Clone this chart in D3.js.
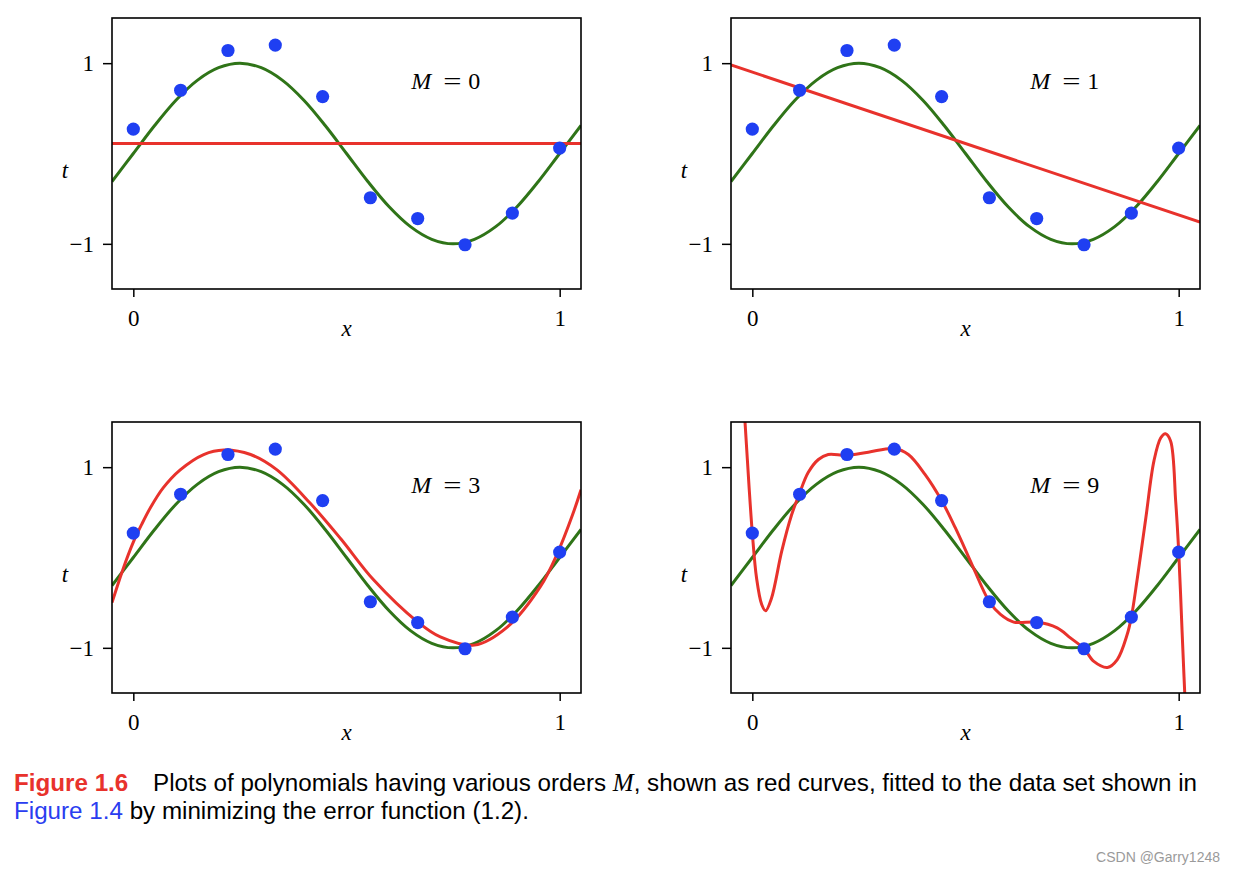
<!DOCTYPE html>
<html>
<head>
<meta charset="utf-8">
<script src="https://cdn.jsdelivr.net/npm/d3@7"></script>
<style>
  html, body { margin: 0; padding: 0; background: #fff; }
  svg { display: block; }
</style>
</head>
<body>
<svg id="chart" width="1234" height="873"></svg>
<script>
// ---------------- data ----------------
const orders = [0, 1, 3, 9];
const pointX = [0, 0.111, 0.222, 0.333, 0.444, 0.556, 0.667, 0.778, 0.889, 1];
const pointT = [0.27, 0.70, 1.14, 1.20, 0.63, -0.49, -0.72, -1.01, -0.66, 0.06];

const sineX = [-0.05, 0, 0.05, 0.1, 0.15, 0.2, 0.25, 0.3, 0.35, 0.4, 0.45, 0.5,
               0.55, 0.6, 0.65, 0.7, 0.75, 0.8, 0.85, 0.9, 0.95, 1.0, 1.05];
const sineY = [-0.31, 0, 0.31, 0.59, 0.81, 0.95, 1.0, 0.95, 0.81, 0.59, 0.31, 0,
               -0.31, -0.59, -0.81, -0.95, -1.0, -0.95, -0.81, -0.59, -0.31, 0, 0.31];

const fitM0X = [-0.05, 1.05];
const fitM0Y = [0.11, 0.11];
const fitM1X = [-0.05, 1.05];
const fitM1Y = [0.98, -0.76];
const fitM3X = [-0.05, -0.025, 0, 0.02, 0.04, 0.07, 0.11, 0.165, 0.212, 0.275, 0.337, 0.415, 0.486,
                0.564, 0.666, 0.72, 0.80, 0.877, 0.955, 0.995, 1.03, 1.05];
const fitM3Y = [-0.50, -0.14, 0.17, 0.37, 0.55, 0.77, 0.97, 1.14, 1.19, 1.14, 0.97, 0.60, 0.21,
                -0.25, -0.71, -0.88, -0.97, -0.77, -0.32, 0.05, 0.47, 0.75];
const fitM9X = [-0.022, -0.017, -0.008, 0, 0.010, 0.022, 0.031, 0.045, 0.069, 0.092, 0.110, 0.131,
                0.155, 0.178, 0.221, 0.272, 0.333, 0.366, 0.405, 0.444, 0.476, 0.505, 0.52,
                0.556, 0.582, 0.613, 0.667, 0.715, 0.746, 0.778, 0.801, 0.833, 0.856, 0.879,
                0.889, 0.903, 0.923, 0.942, 0.958, 0.969, 0.981, 0.993, 1.0, 1.008, 1.014, 1.02];
const fitM9Y = [1.8, 1.49, 0.81, 0.27, -0.23, -0.52, -0.59, -0.45, 0.07, 0.47, 0.70, 0.94,
                1.085, 1.14, 1.13, 1.166, 1.206, 1.14, 0.92, 0.63, 0.33, 0.03, -0.13,
                -0.49, -0.63, -0.715, -0.715, -0.78, -0.89, -1.01, -1.15, -1.217, -1.13, -0.856,
                -0.66, -0.23, 0.44, 1.07, 1.325, 1.37, 1.29, 0.62, 0.07, -0.82, -1.48, -2.1];

const fitsX = [fitM0X, fitM1X, fitM3X, fitM9X];
const fitsY = [fitM0Y, fitM1Y, fitM3Y, fitM9Y];

const xDomain = [-0.05, 1.05];
const yDomain = [-1.5, 1.5];
const xTicks = [0, 1];
const yTicks = [-1, 1];

// ---------------- drawing ----------------
const svg = d3.select("#chart");
const panelW = 469, panelH = 271;
const panelPos = [[112, 18], [731, 18], [112, 422], [731, 422]];
const RED = "#e8322c", GREEN = "#2f7418", BLUE = "#1f3ff2";
const serif = "'Liberation Serif', 'DejaVu Serif', serif";

orders.forEach((m, i) => {
  const [left, top] = panelPos[i];
  const g = svg.append("g").attr("transform", `translate(${left},${top})`);
  const x = d3.scaleLinear().domain(xDomain).range([0, panelW]);
  const y = d3.scaleLinear().domain(yDomain).range([panelH, 0]);

  const clipId = "clip" + i;
  g.append("clipPath").attr("id", clipId)
    .append("rect").attr("x", 0).attr("y", 0).attr("width", panelW).attr("height", panelH);

  const line = d3.line()
    .x(d => x(d[0])).y(d => y(d[1]))
    .curve(d3.curveCatmullRom.alpha(0.5));

  const plot = g.append("g").attr("clip-path", `url(#${clipId})`);

  plot.append("path")
    .datum(sineX.map((v, k) => [v, sineY[k]]))
    .attr("d", line)
    .attr("fill", "none").attr("stroke", GREEN).attr("stroke-width", 3);

  plot.append("path")
    .datum(fitsX[i].map((v, k) => [v, fitsY[i][k]]))
    .attr("d", m <= 1 ? d3.line().x(d => x(d[0])).y(d => y(d[1])) : line)
    .attr("fill", "none").attr("stroke", RED).attr("stroke-width", 3);

  plot.selectAll("circle")
    .data(pointX.map((v, k) => [v, pointT[k]]))
    .join("circle")
    .attr("cx", d => x(d[0])).attr("cy", d => y(d[1]))
    .attr("r", 6.6).attr("fill", BLUE);

  // axes
  const yAxis = d3.axisLeft(y).tickValues(yTicks).tickSize(9).tickPadding(9)
    .tickFormat(d => d < 0 ? "\u2212" + Math.abs(d) : String(d));
  const xAxis = d3.axisBottom(x).tickValues(xTicks).tickSize(8).tickPadding(13)
    .tickFormat(d => String(d));

  const ya = g.append("g").call(yAxis);
  const xa = g.append("g").attr("transform", `translate(0,${panelH})`).call(xAxis);
  [ya, xa].forEach(a => {
    a.select(".domain").remove();
    a.selectAll(".tick line").attr("stroke", "#000").attr("stroke-width", 1.5);
    a.selectAll(".tick text").attr("font-family", serif).attr("font-size", 23).attr("fill", "#000");
  });

  // frame
  g.append("rect").attr("x", 0).attr("y", 0).attr("width", panelW).attr("height", panelH)
    .attr("fill", "none").attr("stroke", "#000").attr("stroke-width", 1.6);

  // axis labels
  g.append("text").attr("x", x(0.5)).attr("y", panelH + 47)
    .attr("text-anchor", "middle").attr("font-family", serif).attr("font-style", "italic")
    .attr("font-size", 23).text("x");
  g.append("text").attr("x", -47).attr("y", 160)
    .attr("text-anchor", "middle").attr("font-family", serif).attr("font-style", "italic")
    .attr("font-size", 23).text("t");

  // order label
  const lx = x(0.652), ly = y(0.7) - 1;
  g.append("text").attr("x", lx).attr("y", ly)
    .attr("font-family", serif).attr("font-style", "italic").attr("font-size", 24).text("M");
  g.append("text").attr("x", lx + 41).attr("y", ly).attr("text-anchor", "middle")
    .attr("font-family", serif).attr("font-size", 24)
    .attr("transform", `translate(${lx + 41},0) scale(1.35,1) translate(${-(lx + 41)},0)`).text("=");
  g.append("text").attr("x", lx + 63).attr("y", ly).attr("text-anchor", "middle")
    .attr("font-family", serif).attr("font-size", 24).text(String(m));
});

// caption
const sans = "'Liberation Sans', Arial, Helvetica, sans-serif";
const cap1 = svg.append("text").attr("x", 14).attr("y", 791).attr("font-family", sans).attr("font-size", 24.2);
cap1.append("tspan").attr("fill", "#e8322c").attr("font-weight", "bold").text("Figure 1.6");
cap1.append("tspan").attr("x", 153).attr("fill", "#000").text("Plots of polynomials having various orders ");
cap1.append("tspan").attr("font-family", serif).attr("font-style", "italic").attr("font-size", 25).text("M");
cap1.append("tspan").text(", shown as red curves, fitted to the data set shown in");

const cap2 = svg.append("text").attr("x", 14).attr("y", 819).attr("font-family", sans).attr("font-size", 24.2);
cap2.append("tspan").attr("fill", "#2a3df0").text("Figure 1.4");
cap2.append("tspan").attr("fill", "#000").text(" by minimizing the error function (1.2).");

svg.append("text").attr("x", 1220).attr("y", 862).attr("text-anchor", "end")
  .attr("font-family", sans).attr("font-size", 14).attr("fill", "#9a9a9a").text("CSDN @Garry1248");
</script>
</body>
</html>
